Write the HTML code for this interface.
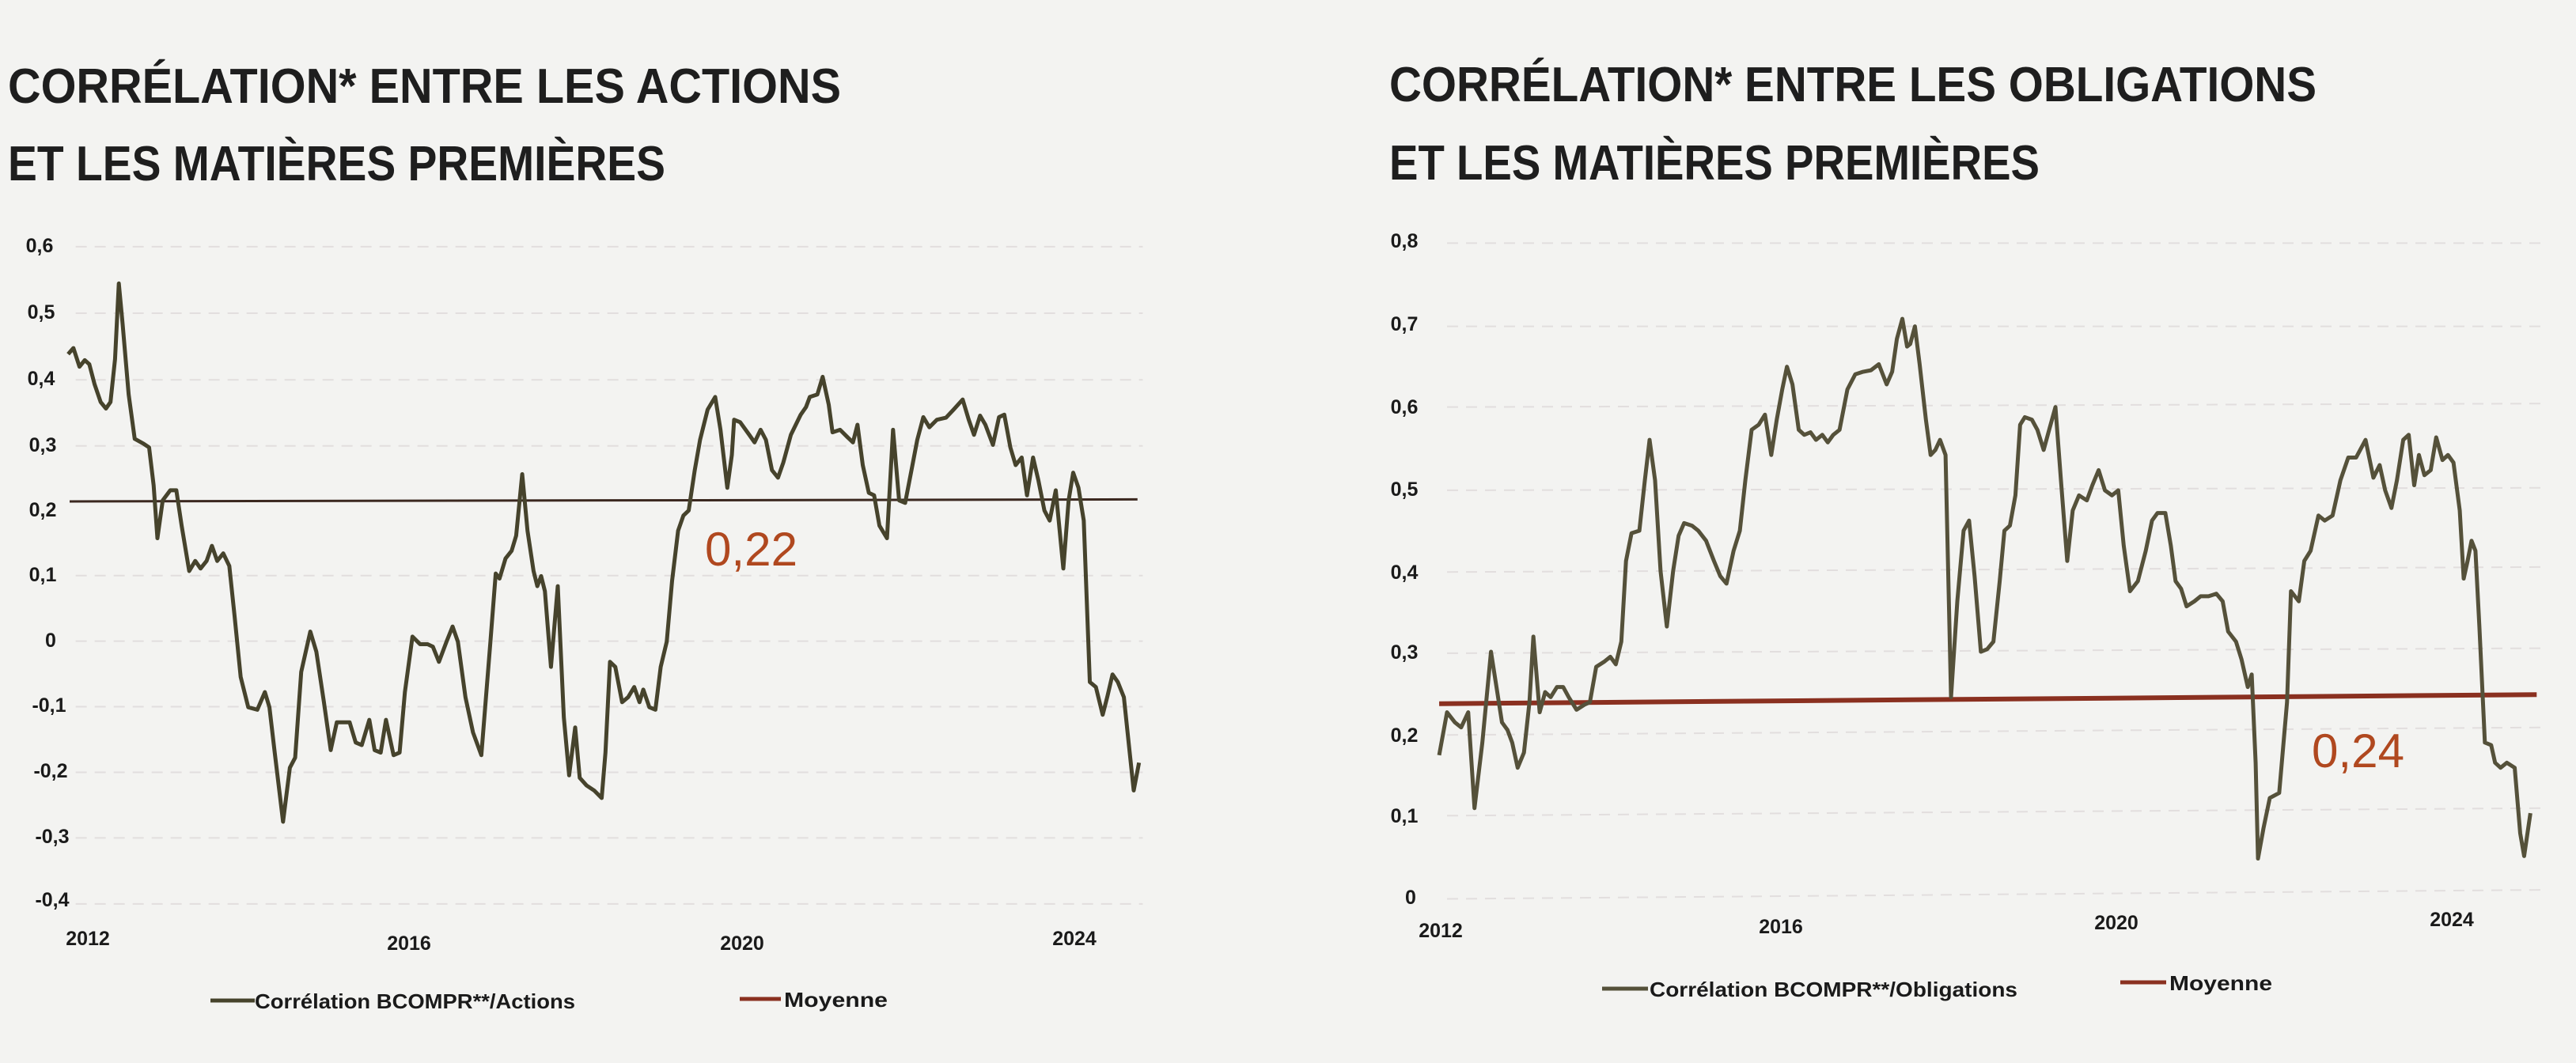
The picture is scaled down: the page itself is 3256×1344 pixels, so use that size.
<!DOCTYPE html>
<html><head><meta charset="utf-8"><style>
html,body{margin:0;padding:0;background:#f3f3f1;}
svg{display:block;}
</style></head><body>
<svg width="3256" height="1344" viewBox="0 0 3256 1344" xmlns="http://www.w3.org/2000/svg">
<rect width="3256" height="1344" fill="#f3f3f1"/>
<g font-family="Liberation Sans, sans-serif" font-weight="bold" fill="#1e1e1e" font-size="62">
<text x="10" y="130" textLength="1053" lengthAdjust="spacingAndGlyphs">CORRÉLATION* ENTRE LES ACTIONS</text>
<text x="10" y="228" textLength="831" lengthAdjust="spacingAndGlyphs">ET LES MATIÈRES PREMIÈRES</text>
<text x="1756" y="128" textLength="1172" lengthAdjust="spacingAndGlyphs">CORRÉLATION* ENTRE LES OBLIGATIONS</text>
<text x="1756" y="227" textLength="822" lengthAdjust="spacingAndGlyphs">ET LES MATIÈRES PREMIÈRES</text>
</g>

<!-- LEFT CHART -->
<g transform="translate(0,250) scale(0.9566,0.6378)">
<g stroke="#e2dede" stroke-width="2" stroke-dasharray="14 10" fill="none">
<line x1="100" y1="97" x2="1510" y2="97" vector-effect="non-scaling-stroke"/>
<line x1="100" y1="229" x2="1510" y2="229" vector-effect="non-scaling-stroke"/>
<line x1="100" y1="361" x2="1510" y2="361" vector-effect="non-scaling-stroke"/>
<line x1="100" y1="492" x2="1510" y2="492" vector-effect="non-scaling-stroke"/>
<line x1="100" y1="749" x2="1510" y2="749" vector-effect="non-scaling-stroke"/>
<line x1="100" y1="879" x2="1510" y2="879" vector-effect="non-scaling-stroke"/>
<line x1="100" y1="1009" x2="1510" y2="1009" vector-effect="non-scaling-stroke"/>
<line x1="100" y1="1139" x2="1510" y2="1139" vector-effect="non-scaling-stroke"/>
<line x1="100" y1="1269" x2="1510" y2="1269" vector-effect="non-scaling-stroke"/>
<line x1="100" y1="1400" x2="1510" y2="1400" vector-effect="non-scaling-stroke"/>
</g>
<line x1="92" y1="602" x2="1503" y2="598" stroke="#3b2820" stroke-width="3" vector-effect="non-scaling-stroke"/>
<polyline fill="none" stroke="#46432c" stroke-width="5" stroke-linejoin="round" vector-effect="non-scaling-stroke" points="90,310 97,298 105,335 112,322 118,330 125,370 133,405 140,418 146,405 152,320 157,170 162,250 170,390 178,478 190,488 197,495 203,570 208,675 215,600 225,580 233,580 240,650 250,740 258,720 265,735 273,720 280,690 287,720 295,705 303,730 310,830 318,950 328,1010 340,1015 350,980 356,1010 363,1100 374,1237 383,1130 390,1110 398,940 410,860 418,900 428,1000 437,1095 445,1040 455,1040 462,1040 470,1080 478,1085 488,1035 495,1095 503,1100 510,1035 520,1105 528,1100 535,980 545,870 555,885 565,885 572,890 580,920 590,880 598,850 605,880 615,990 625,1060 636,1105 648,880 655,745 660,755 668,715 676,700 682,670 690,548 697,660 705,740 710,770 715,750 720,780 728,930 737,770 745,1030 752,1145 760,1050 766,1150 775,1165 785,1175 795,1190 800,1100 806,920 813,930 822,1000 830,990 838,970 845,1000 850,975 858,1010 866,1015 873,930 881,880 888,760 896,660 903,630 910,620 918,540 925,480 935,420 945,395 952,460 961,575 967,510 970,440 978,445 990,470 997,485 1005,460 1012,480 1020,540 1028,555 1035,525 1045,470 1058,430 1065,415 1070,395 1080,390 1087,355 1095,410 1100,465 1110,460 1120,475 1127,485 1133,450 1140,530 1148,585 1155,590 1162,650 1172,675 1180,460 1188,600 1196,605 1205,535 1212,480 1220,435 1228,455 1238,440 1250,436 1260,420 1272,400 1280,440 1287,470 1295,432 1302,450 1312,490 1320,435 1327,430 1335,495 1342,530 1350,515 1357,590 1365,515 1372,560 1380,620 1387,640 1395,580 1405,735 1412,600 1418,545 1425,575 1432,640 1440,960 1448,970 1457,1025 1463,990 1470,945 1477,960 1485,990 1492,1090 1498,1175 1505,1120"/>
</g>
<g font-family="Liberation Sans, sans-serif" font-weight="bold" font-size="25" fill="#1a1a1a" text-anchor="middle">
<text x="50" y="319">0,6</text>
<text x="52" y="403">0,5</text>
<text x="52" y="487">0,4</text>
<text x="54" y="571">0,3</text>
<text x="54" y="653">0,2</text>
<text x="54" y="735">0,1</text>
<text x="64" y="818">0</text>
<text x="62" y="900">-0,1</text>
<text x="64" y="983">-0,2</text>
<text x="66" y="1066">-0,3</text>
<text x="66" y="1146">-0,4</text>
<text x="111" y="1195">2012</text>
<text x="517" y="1201">2016</text>
<text x="938" y="1201">2020</text>
<text x="1358" y="1195">2024</text>
</g>
<text x="891" y="715" font-family="Liberation Sans, sans-serif" font-size="60" fill="#b0481f" textLength="117" lengthAdjust="spacingAndGlyphs">0,22</text>

<!-- RIGHT CHART -->
<g transform="translate(1700,250) scale(0.9923,0.6378)">
<g stroke="#e2dede" stroke-width="2" stroke-dasharray="14 10" fill="none">
<line x1="130" y1="90" x2="1530" y2="90" vector-effect="non-scaling-stroke"/>
<line x1="130" y1="255" x2="1530" y2="255" vector-effect="non-scaling-stroke"/>
<line x1="130" y1="415" x2="1530" y2="408" vector-effect="non-scaling-stroke"/>
<line x1="130" y1="580" x2="1530" y2="575" vector-effect="non-scaling-stroke"/>
<line x1="130" y1="742" x2="1530" y2="732" vector-effect="non-scaling-stroke"/>
<line x1="130" y1="903" x2="1530" y2="893" vector-effect="non-scaling-stroke"/>
<line x1="130" y1="1065" x2="1530" y2="1050" vector-effect="non-scaling-stroke"/>
<line x1="130" y1="1225" x2="1530" y2="1210" vector-effect="non-scaling-stroke"/>
<line x1="130" y1="1390" x2="1530" y2="1372" vector-effect="non-scaling-stroke"/>
</g>
<line x1="120" y1="1003" x2="1518" y2="985" stroke="#8a3020" stroke-width="6" vector-effect="non-scaling-stroke"/>
<polyline fill="none" stroke="#55513a" stroke-width="5" stroke-linejoin="round" vector-effect="non-scaling-stroke" points="120,1105 130,1020 140,1040 148,1050 157,1020 165,1210 175,1080 186,900 193,970 200,1040 207,1055 213,1080 220,1130 228,1100 235,1000 240,870 248,1020 255,980 262,990 270,970 278,970 285,990 295,1015 305,1005 312,1000 320,930 330,920 338,910 345,925 352,880 358,720 365,665 375,660 382,560 388,480 395,560 402,740 410,850 418,740 425,670 432,645 442,650 450,660 460,680 470,720 478,750 486,765 495,700 503,660 510,560 518,460 527,450 535,430 543,510 550,440 557,380 563,335 570,370 578,460 585,470 593,465 600,480 608,470 615,485 622,470 630,460 640,380 650,350 660,345 670,342 680,330 690,370 697,345 703,280 710,240 716,295 720,290 726,255 732,330 740,440 746,510 752,500 758,480 765,510 772,990 780,800 788,660 795,640 802,750 810,900 818,895 826,880 834,760 840,660 847,650 854,590 860,450 866,435 875,440 882,460 890,500 897,460 905,415 912,560 920,720 927,620 935,590 945,600 952,570 960,540 968,580 977,590 985,580 992,690 1000,780 1010,760 1020,700 1028,640 1035,625 1045,625 1052,690 1058,760 1065,775 1072,810 1082,800 1090,790 1100,790 1110,785 1118,800 1125,860 1135,880 1142,915 1150,970 1155,945 1160,1120 1163,1310 1170,1250 1178,1190 1190,1180 1200,1000 1205,780 1215,800 1222,720 1230,700 1240,630 1248,640 1258,630 1268,560 1278,515 1288,515 1300,480 1310,555 1318,530 1325,580 1333,615 1340,560 1348,480 1355,470 1362,570 1368,510 1375,550 1383,540 1390,475 1398,520 1405,510 1412,525 1420,620 1425,755 1430,720 1435,680 1440,700 1445,850 1452,1080 1460,1085 1465,1120 1472,1130 1480,1120 1490,1130 1497,1260 1502,1305 1510,1220"/>
</g>
<g font-family="Liberation Sans, sans-serif" font-weight="bold" font-size="25" fill="#1a1a1a" text-anchor="middle">
<text x="1775" y="313">0,8</text>
<text x="1775" y="418">0,7</text>
<text x="1775" y="523">0,6</text>
<text x="1775" y="627">0,5</text>
<text x="1775" y="732">0,4</text>
<text x="1775" y="833">0,3</text>
<text x="1775" y="938">0,2</text>
<text x="1775" y="1040">0,1</text>
<text x="1783" y="1143">0</text>
<text x="1821" y="1185">2012</text>
<text x="2251" y="1180">2016</text>
<text x="2675" y="1175">2020</text>
<text x="3099" y="1171">2024</text>
</g>
<text x="2922" y="970" font-family="Liberation Sans, sans-serif" font-size="60" fill="#b0481f" textLength="117" lengthAdjust="spacingAndGlyphs">0,24</text>

<!-- LEGENDS -->
<g font-family="Liberation Sans, sans-serif" font-weight="bold" font-size="26" fill="#1a1a1a">
<line x1="266" y1="1265" x2="322" y2="1265" stroke="#46432c" stroke-width="5"/>
<text x="322" y="1275" textLength="405" lengthAdjust="spacingAndGlyphs">Corrélation BCOMPR**/Actions</text>
<line x1="935" y1="1263" x2="987" y2="1263" stroke="#8a3020" stroke-width="5"/>
<text x="991" y="1273" textLength="131" lengthAdjust="spacingAndGlyphs">Moyenne</text>
<line x1="2025" y1="1250" x2="2083" y2="1250" stroke="#55513a" stroke-width="5"/>
<text x="2085" y="1260" textLength="465" lengthAdjust="spacingAndGlyphs">Corrélation BCOMPR**/Obligations</text>
<line x1="2680" y1="1242" x2="2738" y2="1242" stroke="#8a3020" stroke-width="5"/>
<text x="2742" y="1252" textLength="130" lengthAdjust="spacingAndGlyphs">Moyenne</text>
</g>
</svg>
</body></html>
